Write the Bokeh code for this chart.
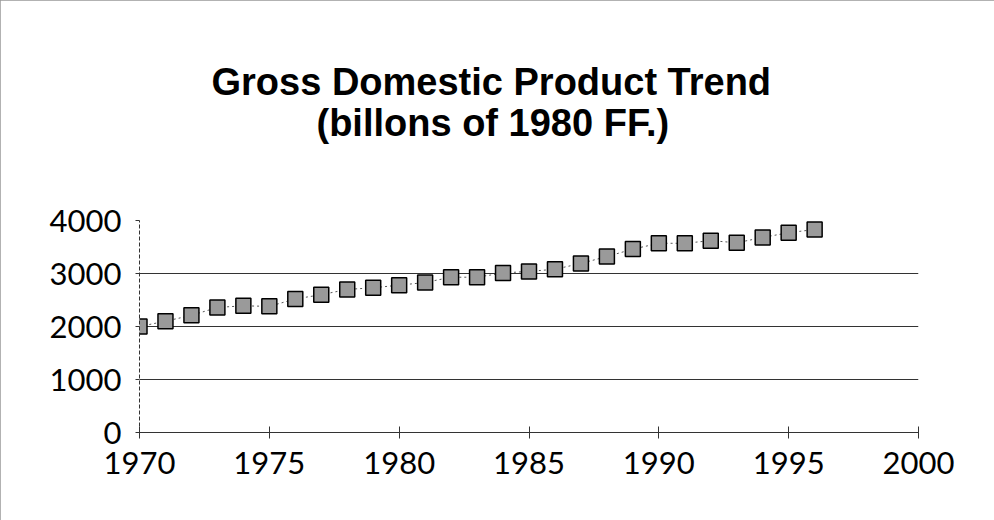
from bokeh.plotting import figure
from bokeh.models import Range1d, FixedTicker, Title, ColumnDataSource
from bokeh.embed import file_html
from bokeh.resources import INLINE

years = [1970, 1971, 1972, 1973, 1974, 1975, 1976, 1977, 1978, 1979,
         1980, 1981, 1982, 1983, 1984, 1985, 1986, 1987, 1988, 1989,
         1990, 1991, 1992, 1993, 1994, 1995, 1996]
gdp = [2000, 2100, 2210, 2360, 2390, 2380, 2520, 2600, 2700, 2730,
       2780, 2830, 2930, 2930, 3010, 3040, 3080, 3190, 3320, 3460,
       3570, 3570, 3620, 3580, 3680, 3770, 3830]
x_ticks = [1970, 1975, 1980, 1985, 1990, 1995, 2000]
y_ticks = [0, 1000, 2000, 3000, 4000]
title_lines = ["Gross Domestic Product Trend", "(billons of 1980 FF.)"]

src = ColumnDataSource(data=dict(year=years, gdp=gdp))

p = figure(width=994, height=520, output_backend="svg", toolbar_location=None,
           x_range=Range1d(1970, 2000), y_range=Range1d(0, 4000),
           min_border_left=139, min_border_right=76, min_border_bottom=88,
           min_border_top=0)
p.title.visible = False
p.outline_line_color = None
p.background_fill_color = "white"
p.border_fill_color = "white"
p.styles = {"outline": "1px solid #999999", "outline-offset": "-1px"}

spacer_bottom = Title(text=" ", text_font_size="10px", standoff=64)
t2 = Title(text=title_lines[1], align="left", text_font="Liberation Sans",
           text_font_size="38px", text_font_style="bold", text_color="black",
           offset=177, standoff=0)
t1 = Title(text=title_lines[0], align="left", text_font="Liberation Sans",
           text_font_size="38px", text_font_style="bold", text_color="black",
           offset=72, standoff=-6)
spacer_top = Title(text=" ", text_font_size="10px", standoff=48)
p.add_layout(spacer_bottom, "above")
p.add_layout(t2, "above")
p.add_layout(t1, "above")
p.add_layout(spacer_top, "above")

p.line("year", "gdp", source=src, line_color="#555555", line_width=1, line_dash="2 3")
p.scatter("year", "gdp", source=src, marker="square", size=15,
          fill_color="#9a9a9a", line_color="black", line_width=1.5)

p.xgrid.visible = False
p.ygrid.ticker = FixedTicker(ticks=y_ticks)
p.ygrid.grid_line_color = "#333333"
p.ygrid.grid_line_width = 1

p.xaxis.ticker = FixedTicker(ticks=x_ticks)
p.yaxis.ticker = FixedTicker(ticks=y_ticks)
p.xaxis.minor_tick_line_color = None
p.yaxis.minor_tick_line_color = None
for ax in (p.xaxis, p.yaxis):
    ax.major_label_text_font = "Lato"
    ax.major_label_text_font_size = "31px"
    ax.major_label_text_color = "black"
    ax.axis_line_color = "#333333"
    ax.major_tick_line_color = "#333333"
p.xaxis.major_tick_in = 6
p.xaxis.major_tick_out = 6
p.xaxis.major_label_standoff = 13
p.yaxis.major_tick_in = 0
p.yaxis.major_tick_out = 4
p.yaxis.major_label_standoff = 14
p.yaxis.axis_line_dash = "4 2"

open("out.html", "w").write(file_html(p, INLINE))
